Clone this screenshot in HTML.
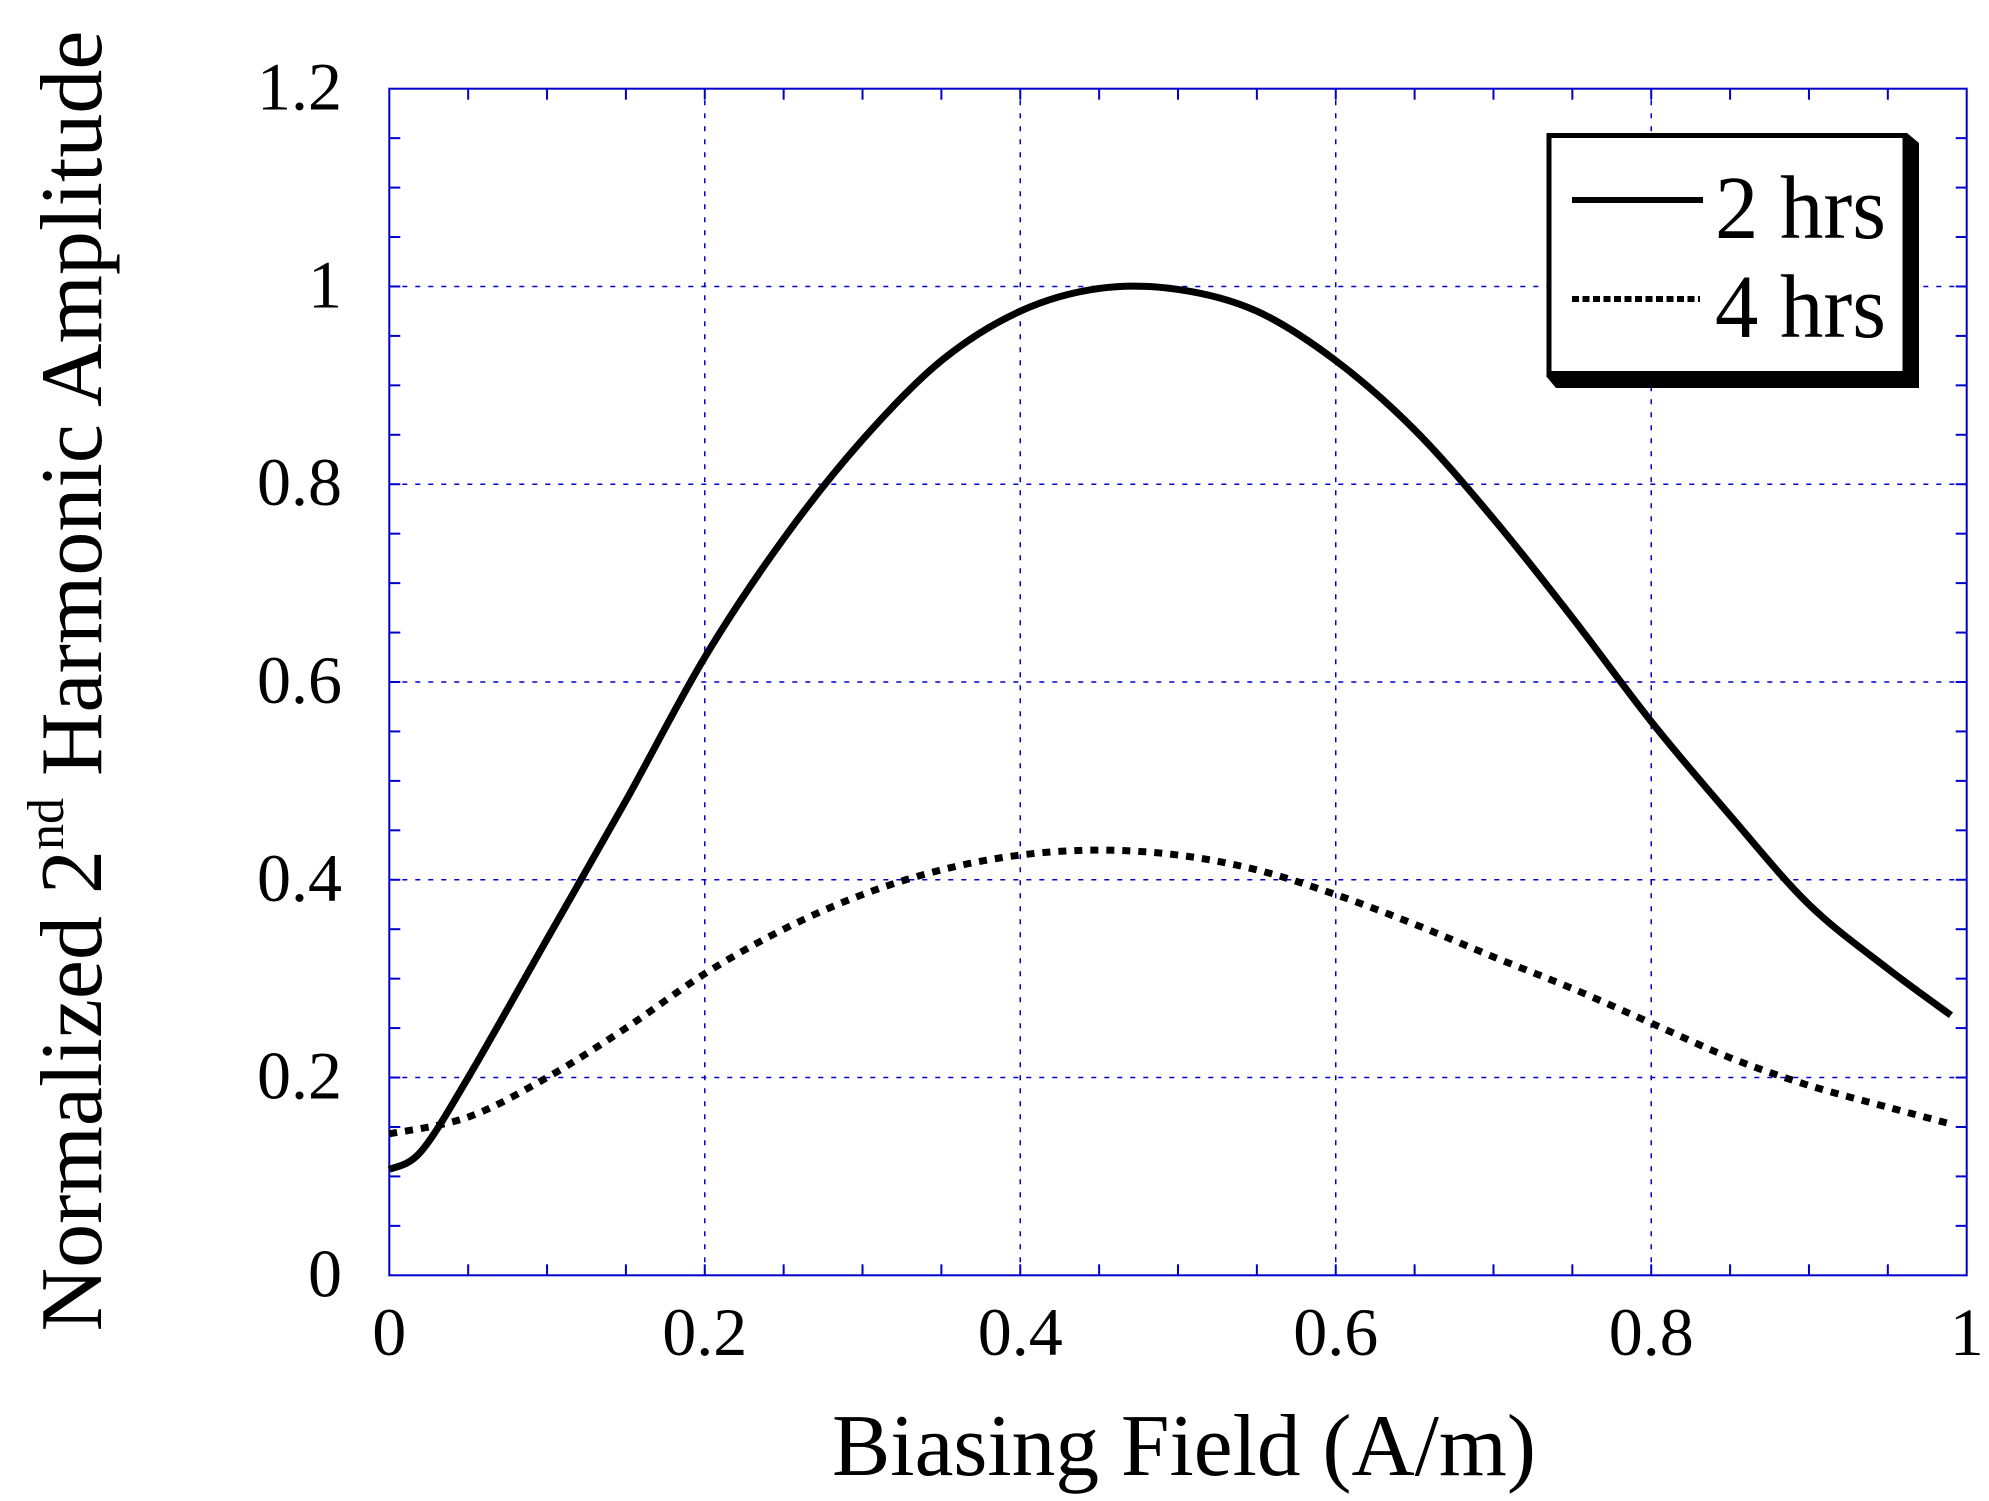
<!DOCTYPE html>
<html><head><meta charset="utf-8"><style>
html,body{margin:0;padding:0;background:#fff;}
svg{display:block;font-family:"Liberation Serif",serif;}
</style></head><body>
<svg id="chart" width="1989" height="1501" viewBox="0 0 1989 1501" xmlns="http://www.w3.org/2000/svg">
<g id="grid"></g>
<g id="axes"></g>
<g id="series"></g>
<text x="1184" y="1475" font-size="88" text-anchor="middle" textLength="704" lengthAdjust="spacingAndGlyphs">Biasing Field (A/m)</text>
<text transform="translate(101,681) rotate(-90)" font-size="88" text-anchor="middle">Normalized 2<tspan font-size="52" dy="-38">nd</tspan><tspan dy="38"> Harmonic Amplitude</tspan></text>
<g>
<polygon points="1556,388 1919,388 1919,143 1907,133 1907,376 1546,376" fill="#000"/>
<rect x="1549" y="135.5" width="356" height="238" fill="#fff" stroke="#000" stroke-width="5"/>
<line x1="1572" y1="200" x2="1703" y2="200" stroke="#000" stroke-width="6"/>
<text x="1715" y="238" font-size="90" textLength="171" lengthAdjust="spacingAndGlyphs">2 hrs</text>
<line x1="1572" y1="299" x2="1700" y2="299" stroke="#000" stroke-width="6" stroke-dasharray="7 3.5"/>
<text x="1715" y="337" font-size="90" textLength="171" lengthAdjust="spacingAndGlyphs">4 hrs</text>
</g>
</svg>
<script>
const xs2 = [0,0.02,0.05,0.1,0.15,0.2,0.25,0.3,0.35,0.4,0.45,0.5,0.55,0.6,0.65,0.7,0.75,0.8,0.85,0.9,0.95,0.99];
const ys2 = [0.107,0.125,0.20,0.34,0.48,0.625,0.745,0.845,0.925,0.975,0.998,0.997,0.975,0.925,0.855,0.765,0.665,0.56,0.465,0.375,0.31,0.263];
const xs4 = [0,0.05,0.1,0.15,0.2,0.25,0.3,0.35,0.4,0.45,0.5,0.55,0.6,0.65,0.7,0.75,0.8,0.85,0.9,0.95,0.99];
const ys4 = [0.143,0.16,0.2,0.25,0.305,0.35,0.385,0.41,0.425,0.43,0.425,0.41,0.385,0.355,0.322,0.29,0.255,0.22,0.192,0.17,0.153];
const xTickLabels = ["0","0.2","0.4","0.6","0.8","1"];
const yTickLabels = ["0","0.2","0.4","0.6","0.8","1","1.2"];
const X0=389.3, X1=1966.7, Y0=1275.3, Y1=88.7;
function sx(v){return X0+(X1-X0)*v;}
function sy(v){return Y0-(Y0-Y1)*v/1.2;}
const NS="http://www.w3.org/2000/svg";
function mk(tag,attrs,parent){const e=document.createElementNS(NS,tag);for(const k in attrs)e.setAttribute(k,attrs[k]);parent.appendChild(e);return e;}
const grid=document.getElementById('grid'), axes=document.getElementById('axes'), series=document.getElementById('series');
const blue="#0000cc";
for(let i=1;i<5;i++){
  const l=mk('line',{x1:sx(i*0.2),x2:sx(i*0.2),y1:Y0,y2:Y1,stroke:blue,'stroke-width':1.5,'stroke-dasharray':'5 8'},grid);
  
  
}
for(let i=1;i<6;i++){
  const l=mk('line',{x1:X0,x2:X1,y1:sy(i*0.2),y2:sy(i*0.2),stroke:blue,'stroke-width':1.5,'stroke-dasharray':'5 8'},grid);
  
  
}
for(let i=1;i<20;i++){
  const x=sx(i*0.05);
  const a=mk('line',{x1:x,x2:x,y1:Y0,y2:Y0-11,stroke:blue,'stroke-width':2},axes);
  
  
  const b=mk('line',{x1:x,x2:x,y1:Y1,y2:Y1+11,stroke:blue,'stroke-width':2},axes);
  
  
}
for(let i=1;i<24;i++){
  const y=sy(i*0.05);
  const a=mk('line',{x1:X0,x2:X0+11,y1:y,y2:y,stroke:blue,'stroke-width':2},axes);
  
  
  const b=mk('line',{x1:X1,x2:X1-11,y1:y,y2:y,stroke:blue,'stroke-width':2},axes);
  
  
}
const frame=mk('rect',{x:X0,y:Y1,width:X1-X0,height:Y0-Y1,fill:'none',stroke:blue,'stroke-width':2},axes);


xTickLabels.forEach((t,i)=>{
  const e=mk('text',{x:sx(i*0.2),y:1355,'font-size':68,'text-anchor':'middle'},axes);
  e.textContent=t;
  
  
});
yTickLabels.forEach((t,i)=>{
  const e=mk('text',{x:342,y:sy(i*0.2)+21,'font-size':68,'text-anchor':'end'},axes);
  e.textContent=t;
  
  
});
function pathFrom(xs,ys){
  const p=xs.map((x,i)=>[sx(x),sy(ys[i])]);
  let d="M"+p[0][0]+","+p[0][1];
  for(let i=0;i<p.length-1;i++){
    const p0=p[i-1]||p[i],p1=p[i],p2=p[i+1],p3=p[i+2]||p2;
    const c1x=p1[0]+(p2[0]-p0[0])/6,c1y=p1[1]+(p2[1]-p0[1])/6;
    const c2x=p2[0]-(p3[0]-p1[0])/6,c2y=p2[1]-(p3[1]-p1[1])/6;
    d+=" C"+c1x+","+c1y+" "+c2x+","+c2y+" "+p2[0]+","+p2[1];
  }
  return d;
}
const s2=mk('path',{d:pathFrom(xs2,ys2),fill:'none',stroke:'#000','stroke-width':7,'stroke-linejoin':'round'},series);


const s4=mk('path',{d:pathFrom(xs4,ys4),fill:'none',stroke:'#000','stroke-width':7,'stroke-dasharray':'8 8'},series);


</script>
</body></html>
